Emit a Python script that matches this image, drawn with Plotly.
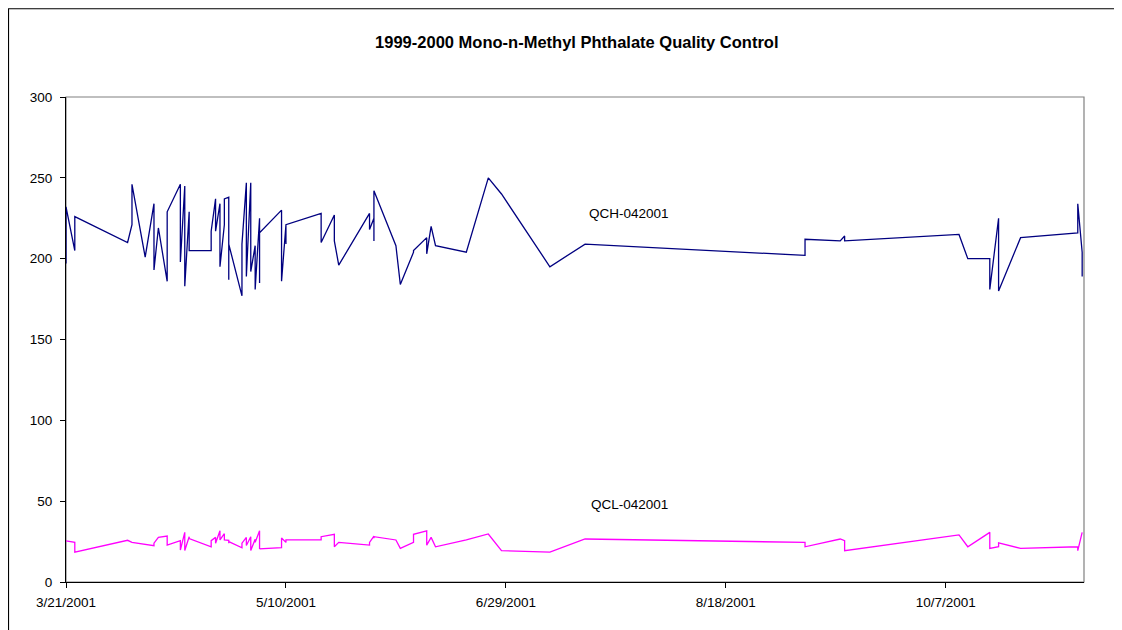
import plotly.graph_objects as go

# shared run dates (several runs on one day give the vertical strokes)
dates = [
    "2001-03-21", "2001-03-21", "2001-03-23", "2001-03-23", "2001-04-04",
    "2001-04-05", "2001-04-05", "2001-04-08", "2001-04-10", "2001-04-10",
    "2001-04-11", "2001-04-13", "2001-04-13", "2001-04-16", "2001-04-16",
    "2001-04-17", "2001-04-17", "2001-04-18", "2001-04-18", "2001-04-23",
    "2001-04-23", "2001-04-24", "2001-04-24", "2001-04-25", "2001-04-25",
    "2001-04-26", "2001-04-26", "2001-04-27", "2001-04-27", "2001-04-27",
    "2001-04-30", "2001-04-30", "2001-05-01", "2001-05-01", "2001-05-02",
    "2001-05-02", "2001-05-03", "2001-05-03", "2001-05-04", "2001-05-04",
    "2001-05-04", "2001-05-09", "2001-05-09", "2001-05-10", "2001-05-10",
    "2001-05-10", "2001-05-18", "2001-05-18", "2001-05-21", "2001-05-21",
    "2001-05-22", "2001-05-29", "2001-05-29", "2001-05-30", "2001-05-30",
    "2001-05-30", "2001-06-04", "2001-06-05", "2001-06-08", "2001-06-08",
    "2001-06-11", "2001-06-11", "2001-06-12", "2001-06-13", "2001-06-20",
    "2001-06-25", "2001-06-28", "2001-07-09", "2001-07-17", "2001-09-05",
    "2001-09-05", "2001-09-13", "2001-09-14", "2001-09-14", "2001-10-10",
    "2001-10-12", "2001-10-17", "2001-10-17", "2001-10-19", "2001-10-19",
    "2001-10-24", "2001-11-06", "2001-11-06", "2001-11-07", "2001-11-07",
]

qch = [
    197, 232, 205, 226, 210,
    221, 246, 201, 234, 193,
    219, 186, 229, 246, 198,
    245, 183, 229, 205, 205,
    217, 237, 217, 234, 195,
    221, 237, 238, 187, 209,
    177, 209, 247, 189, 247,
    192, 208, 181, 225, 185,
    216, 230, 186, 221, 209,
    221, 228, 210, 227, 211,
    196, 228, 218, 225, 211,
    242, 208, 184, 204, 205,
    213, 203, 220, 208, 204,
    250, 240, 195, 209, 202,
    212, 211, 214, 211, 215,
    200, 200, 181, 225, 180,
    213, 216, 234, 204, 189,
]

qcl = [
    25.5, 25.5, 24.5, 18.5, 25.8,
    24.5, 24.5, 23.5, 22.5, 24.0,
    27.6, 28.4, 22.8, 25.6, 19.8,
    30.7, 19.5, 28.0, 26.8, 21.8,
    25.6, 27.6, 24.0, 31.7, 26.0,
    29.9, 26.0, 25.8, 24.0, 25.0,
    21.2, 24.0, 27.6, 22.6, 28.0,
    19.5, 26.5, 24.5, 31.7, 20.4,
    20.5, 21.2, 27.2, 24.5, 26.0,
    26.0, 26.0, 28.0, 29.5, 21.8,
    24.5, 22.8, 24.5, 28.4, 27.0,
    28.0, 26.0, 20.8, 24.5, 29.5,
    31.7, 22.8, 27.6, 21.8, 26.0,
    29.7, 19.4, 18.5, 26.6, 24.5,
    21.8, 26.6, 25.6, 19.4, 29.1,
    21.8, 30.7, 20.8, 21.8, 24.2,
    20.8, 21.8, 19.4, 30.7, 30.7,
]

series_names = ["QCH-042001", "QCL-042001"]
label_x = "2001-07-27"
label_y = [228, 48]

fig = go.Figure()

fig.add_trace(go.Scatter(
    x=dates, y=qch, mode="lines", name=series_names[0],
    line=dict(color="#000080", width=1.3),
))
fig.add_trace(go.Scatter(
    x=dates, y=qcl, mode="lines", name=series_names[1],
    line=dict(color="#FF00FF", width=1.3),
))

for name, yv in zip(series_names, label_y):
    fig.add_annotation(
        x=label_x, y=yv, text=name, showarrow=False,
        font=dict(size=13.5, color="#000000"),
    )

# chart frame and plot-area border
fig.add_shape(type="rect", xref="paper", yref="paper",
              x0=-0.0565, x1=1.0324, y0=-0.2, y1=1.182,
              line=dict(color="#000000", width=1.2), layer="below")
fig.add_shape(type="rect", xref="paper", yref="paper",
              x0=0, x1=1, y0=0, y1=1,
              line=dict(color="#808080", width=1.2), layer="below")

# page body adds an 8px offset, so the figure is 8px smaller each way
fig.update_layout(
    width=1114,
    height=622,
    plot_bgcolor="#FFFFFF",
    paper_bgcolor="#FFFFFF",
    font=dict(family="Liberation Sans, Arial", color="#000000", size=13.5),
    title=dict(
        text="<b>1999-2000 Mono-n-Methyl Phthalate Quality Control</b>",
        x=0.5106, xanchor="center", y=0.945, yanchor="middle",
        font=dict(size=16.5),
    ),
    showlegend=False,
    margin=dict(l=58, r=38, t=89, b=48),
    xaxis=dict(
        type="date",
        range=["2001-03-21", "2001-11-07 10:00"],
        tick0="2001-03-21",
        dtick=50 * 86400000,
        tickformat="%-m/%-d/%Y",
        showgrid=False,
        zeroline=False,
        showline=True,
        linecolor="#000000",
        linewidth=1,
        ticks="outside",
        ticklen=5,
        tickcolor="#000000",
        tickfont=dict(size=13.5),
        ticklabelstandoff=3,
    ),
    yaxis=dict(
        range=[0, 300],
        dtick=50,
        showgrid=False,
        zeroline=False,
        showline=True,
        linecolor="#000000",
        linewidth=1,
        ticks="outside",
        ticklen=5,
        tickcolor="#000000",
        tickfont=dict(size=13.5),
        ticklabelstandoff=5,
    ),
)

fig.write_html("out.html")
